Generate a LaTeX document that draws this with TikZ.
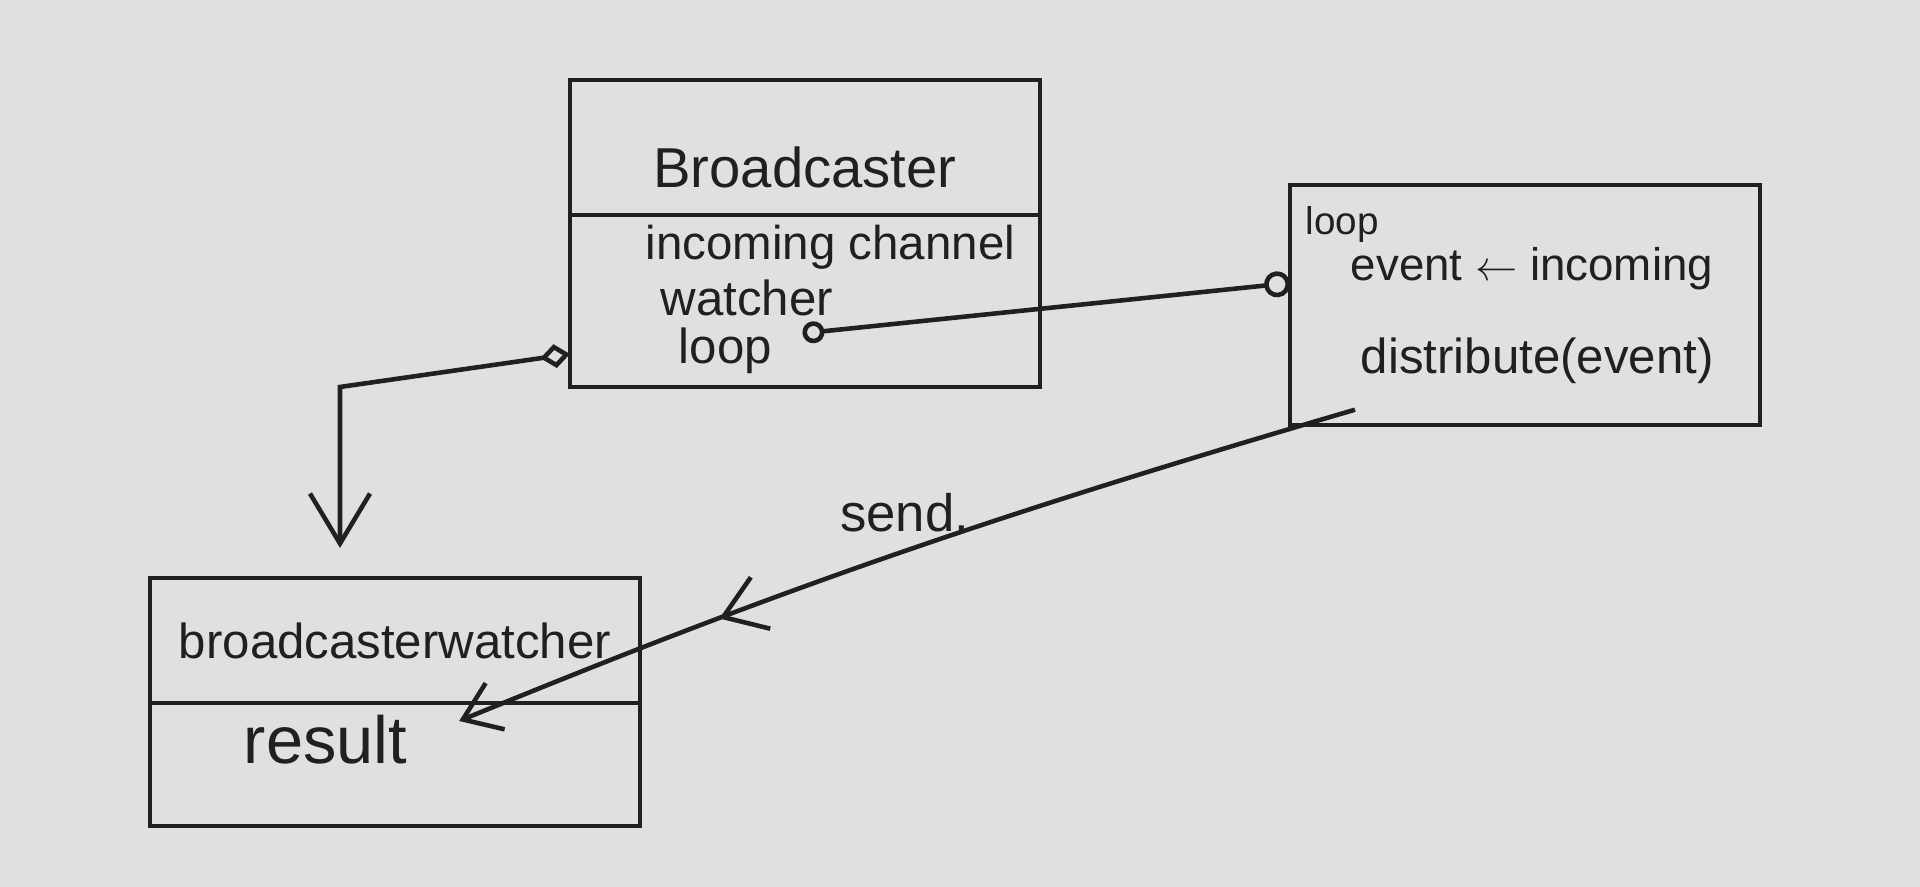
\documentclass[tikz,border=0pt]{standalone}
\usepackage{fontspec}
\setmainfont{Liberation Sans}
\usetikzlibrary{arrows.meta,positioning,decorations.markings}
\definecolor{board}{RGB}{224,224,226}
\definecolor{ink}{RGB}{32,32,32}

\begin{document}
\begin{tikzpicture}[line width=1.3pt,color=ink,
 box/.style={draw,outer sep=0pt,minimum width=47mm,align=center},
 txt/.style={font=\fontsize{14}{16}\selectfont,inner sep=1pt},
 midarrow/.style={postaction={decorate},decoration={markings,mark=at position #1 with {\arrow{Straight Barb[length=4mm,width=5.5mm]}}}}]
\fill[board] (0,0) rectangle (19.2,8.87);
\useasboundingbox (0,0) rectangle (19.2,8.87);
% broadcaster
\node[box,minimum height=13.5mm,text height=8mm,font=\fontsize{16}{19}\selectfont] (bc) at (8.05,7.395) {Broadcaster};
\node[box,minimum height=17.2mm,below=0pt of bc] (bcbody) {};
\node[txt,anchor=west,font=\fontsize{13.5}{16}\selectfont] (inc) at (6.40,6.40) {incoming channel};
\node[txt,anchor=west] (wat) at (6.55,5.89) {watcher};
\node[txt,anchor=west] (bcloop) at (6.73,5.36) {loop};
% loop
\node[box,minimum height=24mm] (loopbox) at (15.25,5.82) {};
\node[txt,anchor=west,font=\fontsize{11}{13}\selectfont] (lplbl) at (13.0,6.62) {loop};
\node[txt,anchor=west,font=\fontsize{13}{15}\selectfont] (ev) at (13.45,6.18) {event $\leftarrow$ incoming};
\node[txt,anchor=west] (dist) at (13.55,5.26) {distribute(event)};
% watcher
\node[box,minimum width=49mm,minimum height=12.5mm,font=\fontsize{14}{16}\selectfont] (bw) at (3.95,2.465) {broadcasterwatcher};
\node[box,minimum width=49mm,minimum height=12.3mm,below=0pt of bw] (res) {};
\node[txt,anchor=west,font=\fontsize{19}{22}\selectfont] (restxt) at (2.38,1.47) {result};
% connectors
\draw[{Circle[open,length=2.2mm]}-{Circle[open,length=2.6mm]},shorten <=2.5mm]
  ([yshift=1.5mm]bcloop.east) -- ([yshift=2.2mm]loopbox.west);
\draw[{Diamond[open,length=3mm,width=2.4mm]}-{Straight Barb[length=5mm,width=6mm]},shorten >=3mm]
  ([yshift=3.3mm]bcbody.south west) -- ([xshift=-5.5mm]bw.north |- bcbody.south) -- ([xshift=-5.5mm]bw.north);
\draw[-{Straight Barb[length=3.5mm,width=5mm]},midarrow=0.67,shorten >=5mm]
  ([yshift=-2mm]dist.south west) to[bend right=3] node[txt,pos=0.47,above=4pt,font=\fontsize{15}{17}\selectfont] (sendlbl) {send.} (restxt.east);
\end{tikzpicture}
\end{document}
